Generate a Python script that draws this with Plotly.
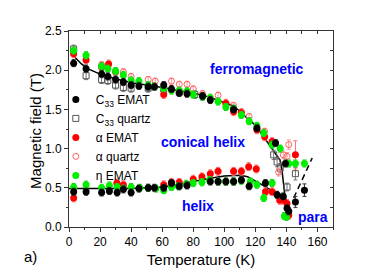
import plotly.graph_objects as go

# ---------------- data ----------------
# C33 EMAT (black filled circles)
c33e_T_up = [3, 11, 21, 25, 30, 35, 40, 45, 51, 55, 61, 66, 71, 76, 86, 91, 106, 121, 133, 139.4]
c33e_B_up = [2.09, 2.02, 1.95, 1.92, 1.88, 1.85, 1.81, 1.80, 1.79, 1.79, 1.81, 1.76, 1.71, 1.70, 1.67, 1.62, 1.50, 1.26, 1.07, 0.81]
c33e_T_lo = [3, 11, 21, 26, 31, 35, 40, 45, 51, 55, 61, 66, 71, 76, 91, 96, 101, 106, 111, 116, 126.5, 134, 138, 140.4, 141.5, 145.8, 151.6]
c33e_B_lo = [0.45, 0.45, 0.44, 0.46, 0.44, 0.48, 0.44, 0.49, 0.50, 0.50, 0.50, 0.56, 0.52, 0.53, 0.58, 0.58, 0.58, 0.58, 0.60, 0.52, 0.56, 0.41, 0.39, 0.24, 0.20, 0.32, 0.47]
c33e_E_lo_big = {145.8: 0.07, 151.6: 0.08}

# C33 quartz (open squares)
c33q_T = [3, 11, 21, 25, 30, 35, 40, 51, 61, 71, 81, 131.8, 134, 136, 140.4, 145.8]
c33q_B = [2.27, 1.93, 1.88, 1.87, 1.81, 1.78, 1.77, 1.77, 1.76, 1.72, 1.69, 0.92, 0.83, 0.75, 0.51, 0.68]
c33q_E = [0.05, 0.05, 0.05, 0.05, 0.05, 0.05, 0.05, 0.05, 0.05, 0.05, 0.05, 0.06, 0.06, 0.06, 0.05, 0.08]

# alpha EMAT (red filled circles)
ae_T = [3, 11, 21, 25.5, 30, 61, 101, 106, 111, 121, 126, 130.8, 145.8,
        3, 30.8, 35, 61, 66, 71, 80, 85.6, 91, 96, 106, 111, 115.7, 120.6, 126.5, 130.8, 135.7, 138, 140.4, 141.5]
ae_B = [2.21, 2.13, 2.04, 2.08, 1.98, 1.69, 1.58, 1.47, 1.46, 1.24, 1.15, 1.09, 0.92,
        0.37, 0.56, 0.54, 0.54, 0.57, 0.57, 0.61, 0.64, 0.68, 0.71, 0.71, 0.71, 0.77, 0.74, 0.45, 0.45, 0.34, 0.34, 0.30, 0.15]
ae_E = [0.05] * 12 + [0.18] + [0.05] * 20

# alpha quartz (open red circles)
aq_T = [21, 35, 40, 51, 55.5, 66, 71, 76, 80, 86, 96, 106, 116, 126, 135, 138, 140.4, 141.5]
aq_B = [2.07, 1.98, 1.92, 1.88, 1.86, 1.86, 1.82, 1.82, 1.76, 1.70, 1.68, 1.55, 1.41, 1.22, 0.70, 0.92, 0.90, 1.05]
aq_E = [0.04] * 14 + [0.05, 0.05, 0.05, 0.06]

# eta EMAT (green filled circles)
ee_T_up = [3, 11, 21, 25, 30, 35, 40, 45, 51, 55, 61, 66, 71, 76, 80, 86, 91, 96, 101, 106, 111, 116, 121, 125.4, 130.8, 136, 141.5, 145.8, 151.6]
ee_B_up = [2.25, 2.19, 2.05, 2.02, 1.99, 1.94, 1.87, 1.86, 1.81, 1.79, 1.77, 1.74, 1.74, 1.73, 1.69, 1.66, 1.65, 1.60, 1.53, 1.51, 1.43, 1.35, 1.29, 1.20, 1.05, 1.00, 0.81, 0.81, 0.81]
ee_T_lo = [3, 11, 21, 26, 31, 35, 40, 45.6, 51, 56, 61, 66, 70.5, 75.5, 80, 85.6, 90.5, 96, 101, 106, 111, 116.8, 121, 125.4, 130.8, 138.7, 140]
ee_B_lo = [0.51, 0.54, 0.50, 0.53, 0.51, 0.49, 0.51, 0.50, 0.50, 0.49, 0.47, 0.51, 0.52, 0.55, 0.56, 0.57, 0.60, 0.58, 0.58, 0.58, 0.59, 0.58, 0.54, 0.37, 0.56, 0.14, 0.13]

# fitted guide lines
fit_up_T = [3, 8, 12, 16, 20, 30, 40, 50, 60, 70, 80, 90, 100, 105, 110, 115, 120, 125, 130, 134, 136, 137, 138, 139, 140, 141, 141.5]
fit_up_B = [2.18, 2.08, 2.02, 1.98, 1.95, 1.89, 1.84, 1.81, 1.78, 1.74, 1.71, 1.66, 1.59, 1.55, 1.48, 1.38, 1.30, 1.16, 1.02, 0.92, 0.85, 0.75, 0.55, 0.40, 0.25, 0.14, 0.09]
fit_lo_T = [0, 20, 40, 60, 70, 80, 90, 100, 110, 115, 120, 125, 130, 134, 137, 138.5]
fit_lo_B = [0.49, 0.49, 0.49, 0.51, 0.54, 0.58, 0.62, 0.65, 0.66, 0.64, 0.59, 0.53, 0.47, 0.43, 0.41, 0.40]
dash_T = [144.7, 156.6]
dash_B = [0.37, 0.88]

x_ticks = [0, 20, 40, 60, 80, 100, 120, 140, 160]
y_ticks = [0.0, 0.5, 1.0, 1.5, 2.0, 2.5]

# ---------------- figure ----------------
FONT = "Liberation Sans, Arial, sans-serif"
fig = go.Figure()

c33e_T = c33e_T_up + c33e_T_lo
c33e_B = c33e_B_up + c33e_B_lo
c33e_E = [c33e_E_lo_big.get(t, 0.045) if i >= len(c33e_T_up) else 0.045 for i, t in enumerate(c33e_T)]
ee_T = ee_T_up + ee_T_lo
ee_B = ee_B_up + ee_B_lo


def err(vals, color):
    return dict(type="data", array=vals, visible=True, color=color, thickness=1, width=2)


fig.add_trace(go.Scatter(x=fit_up_T, y=fit_up_B, mode="lines", line=dict(color="black", width=1.5),
                         showlegend=False, hoverinfo="skip"))
fig.add_trace(go.Scatter(x=fit_lo_T, y=fit_lo_B, mode="lines", line=dict(color="black", width=1.5),
                         showlegend=False, hoverinfo="skip"))
fig.add_trace(go.Scatter(x=dash_T, y=dash_B, mode="lines", line=dict(color="black", width=1.5, dash="6px,4px"),
                         showlegend=False, hoverinfo="skip"))

fig.add_trace(go.Scatter(x=c33q_T, y=c33q_B, mode="markers", name="C<sub>33</sub> quartz", legendrank=2,
                         marker=dict(symbol="square-open", size=6, color="#555555", line=dict(width=1)),
                         error_y=err(c33q_E, "#777777")))
fig.add_trace(go.Scatter(x=aq_T, y=aq_B, mode="markers", name="α quartz", legendrank=4,
                         marker=dict(symbol="circle-open", size=6, color="#ff6060", line=dict(width=1)),
                         error_y=err(aq_E, "#ff9a9a")))
fig.add_trace(go.Scatter(x=ae_T, y=ae_B, mode="markers", name="α EMAT", legendrank=3,
                         marker=dict(symbol="circle", size=7, color="#ff0000"),
                         error_y=err(ae_E, "#ff7070")))
fig.add_trace(go.Scatter(x=ee_T, y=ee_B, mode="markers", name="η EMAT", legendrank=5,
                         marker=dict(symbol="circle", size=7, color="#00ee00"),
                         error_y=err([0.045] * len(ee_T), "#22cc22")))
fig.add_trace(go.Scatter(x=c33e_T, y=c33e_B, mode="markers", name="C<sub>33</sub> EMAT", legendrank=1,
                         marker=dict(symbol="circle", size=7, color="#000000"),
                         error_y=err(c33e_E, "#333333")))

# dummy trace for the mirrored (top/right) axes with inward ticks
fig.add_trace(go.Scatter(x=[None], y=[None], xaxis="x2", yaxis="y2", showlegend=False, hoverinfo="skip"))

fig.update_layout(
    template="none",
    width=388, height=273,
    margin=dict(l=69, r=55, t=31, b=46, autoexpand=False),
    paper_bgcolor="white", plot_bgcolor="white",
    font=dict(family=FONT, size=12, color="black"),
    showlegend=True,
    legend=dict(x=-0.05, y=0.725, xanchor="left", yanchor="top", bgcolor="rgba(0,0,0,0)",
                font=dict(family=FONT, size=12), tracegroupgap=0, borderwidth=0),
    xaxis=dict(range=[0, 170], tickmode="array", tickvals=x_ticks, ticks="outside", ticklen=4,
               tickcolor="#333", showline=True, linecolor="#333", linewidth=1, mirror=True,
               showgrid=False, zeroline=False, tickfont=dict(size=12), automargin=False,
               minor=dict(ticks="outside", ticklen=2, dtick=10, tickcolor="#333"),
               title=dict(text="Temperature (K)", font=dict(size=15), standoff=6)),
    yaxis=dict(range=[0, 2.5], tickmode="array", tickvals=y_ticks, tickformat=".1f", ticks="outside",
               ticklen=4, tickcolor="#333", showline=True, linecolor="#333", linewidth=1, mirror=True,
               showgrid=False, zeroline=False, tickfont=dict(size=12), automargin=False,
               minor=dict(ticks="outside", ticklen=2, dtick=0.25, tickcolor="#333")),
    xaxis2=dict(range=[0, 170], overlaying="x", side="top", anchor="y2", dtick=10, tick0=0, ticks="inside",
                ticklen=3, tickcolor="#333", showticklabels=False, showgrid=False, zeroline=False,
                showline=False, automargin=False),
    yaxis2=dict(range=[0, 2.5], overlaying="y", side="right", anchor="x2", dtick=0.25, tick0=0, ticks="inside",
                ticklen=3, tickcolor="#333", showticklabels=False, showgrid=False, zeroline=False,
                showline=False, automargin=False),
)

blue = "#0000ff"
ann_font = dict(family=FONT, size=14, color=blue)
fig.add_annotation(x=121, y=2.01, text="<b>ferromagnetic</b>", showarrow=False, font=ann_font)
fig.add_annotation(x=86.5, y=1.08, text="<b>conical helix</b>", showarrow=False, font=ann_font)
fig.add_annotation(x=83, y=0.27, text="<b>helix</b>", showarrow=False, font=ann_font)
fig.add_annotation(x=157, y=0.13, text="<b>para</b>", showarrow=False, font=ann_font)
fig.add_annotation(xref="paper", yref="paper", x=-0.125, y=0.49, xanchor="center", yanchor="middle",
                   text="Magnetic field (T)", textangle=-90, showarrow=False,
                   font=dict(family=FONT, size=15, color="black"))
fig.add_annotation(xref="paper", yref="paper", x=-0.144, y=-0.153, xanchor="center", yanchor="middle",
                   text="a)", showarrow=False, font=dict(family=FONT, size=15, color="black"))

fig.write_html("out.html", config={"displayModeBar": False},
               post_script="document.body.style.margin='0';document.body.style.overflow='hidden';")
